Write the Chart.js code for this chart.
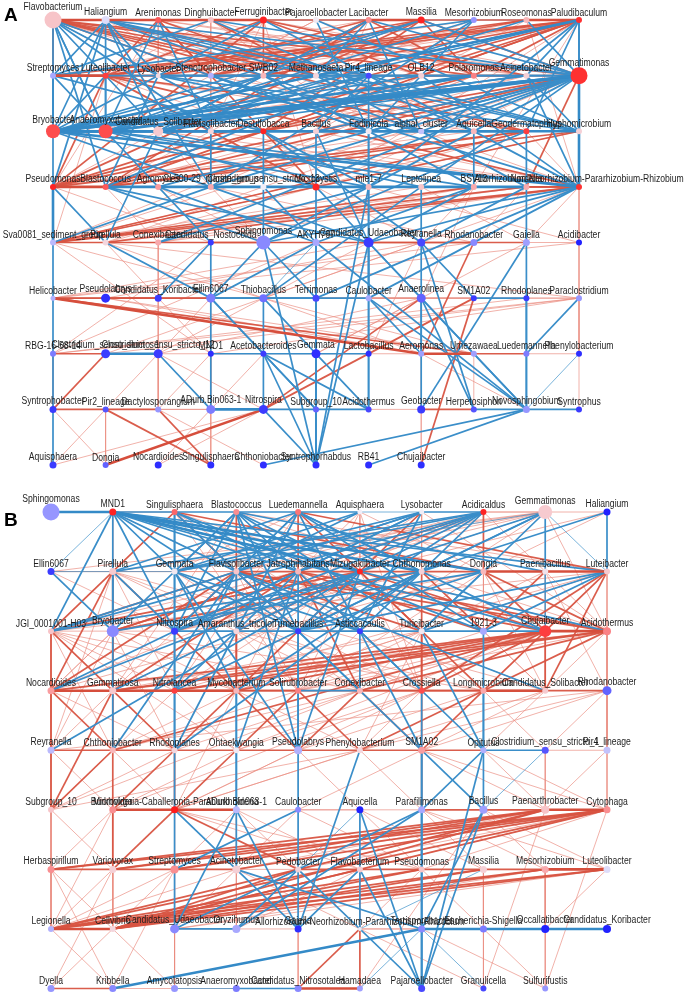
<!DOCTYPE html>
<html><head><meta charset="utf-8">
<script src="https://cdn.jsdelivr.net/npm/chart.js@4.4.1/dist/chart.umd.min.js"></script>
<style>
html,body{margin:0;padding:0;background:#fff;width:685px;height:997px;overflow:hidden}
#wrap{position:relative;width:685px;height:997px}
canvas{position:absolute;left:0}
.tag{position:absolute;font:bold 19px "Liberation Sans",Arial,sans-serif;color:#000}
</style></head><body>
<div id="wrap">
<canvas id="cA" width="685" height="490" style="top:0"></canvas>
<canvas id="cB" width="685" height="507" style="top:490px"></canvas>
<div class="tag" style="left:4px;top:4px">A</div>
<div class="tag" style="left:4px;top:509px">B</div>
</div>
<script>
// ---------- Panel A: genera (rows of the layout grid) ----------
const namesA = [
 ["Flavobacterium","Haliangium","Arenimonas","Dinghuibacter","Ferruginibacter","Pajaroellobacter","Lacibacter","Massilia","Mesorhizobium","Roseomonas","Paludibaculum"],
 ["Streptomyces","Luteolibacter","Lysobacter","Stenotrophobacter","SWB02","Methanosaeta","Pir4_lineage","OLB12","Polaromonas","Acinetobacter","Gemmatimonas"],
 ["Bryobacter","Anaeromyxobacter","Candidatus_Solibacter","Flavisolibacter","Desulfobacca","Bacillus","Fodinicola","alphaI_cluster","Aquicella","Geodermatophilus","Hyphomicrobium"],
 ["Pseudomonas","Blastococcus","Agromyces","CL500-29_marine_group","Clostridium_sensu_stricto_13","Microcystis","mle1-7","Leptolinea","BSV13","Nordella","Allorhizobium-Neorhizobium-Pararhizobium-Rhizobium"],
 ["Sva0081_sediment_group","Pirellula","Conexibacter","Candidatus_Nostocoida","Sphingomonas","AKYH767","Candidatus_Udaeobacter","Reyranella","Rhodanobacter","Gaiella","Acidibacter"],
 ["Helicobacter","Pseudolabrys","Candidatus_Koribacter","Ellin6067","Thiobacillus","Terrimonas","Caulobacter","Anaerolinea","SM1A02","Rhodoplanes","Paraclostridium"],
 ["RBG-16-58-14","Clostridium_sensu_stricto_1","Clostridium_sensu_stricto_12","MND1","Acetobacteroides","Gemmata","Lactobacillus","Aeromonas","Umezawaea","Luedemannella","Phenylobacterium"],
 ["Syntrophobacter","Pir2_lineage","Dactylosporangium","ADurb.Bin063-1","Nitrospira","Subgroup_10","Acidothermus","Geobacter","Herpetosiphon","Novosphingobium","Syntrophus"],
 ["Aquisphaera","Dongia","Nocardioides","Singulisphaera","Chthoniobacter","Syntrophorhabdus","RB41","Chujaibacter"]
];
// association score (-1 negative .. +1 positive) -> node colour
const scoreA = [
 [0.35,-0.1,0.75,0.35,0.95,0.05,0.55,0.95,-0.5,0.4,0.9],
 [-0.4,0.85,0.15,-0.35,0.4,0.2,-0.8,0.25,0.6,0.25,0.9],
 [0.8,0.8,0.3,0.2,0.95,0.25,0.05,-0.25,0.4,0.85,0.25],
 [0.95,0.75,0.5,0.45,0.0,0.95,0.4,0.35,0.45,0.45,0.9],
 [-0.3,0.2,0.45,-0.85,-0.55,-0.4,-0.85,-0.8,-0.55,-0.45,-0.95],
 [-0.35,-0.9,-0.85,-0.6,-0.65,-0.8,-0.4,-0.7,-0.85,-0.85,-0.5],
 [-0.6,-0.85,-0.85,-0.9,-0.85,-0.9,-0.9,-0.45,-0.45,-0.6,-0.9],
 [-0.85,-0.75,-0.5,-0.6,-0.85,-0.7,-0.8,-0.85,-0.75,-0.5,-0.85],
 [-0.85,-0.7,-0.9,-0.9,-0.9,-0.9,-0.9,-0.9]
];
// node degree -> node size
const degreeA = [
 [14,5,3,3,4,3,3,4,3,3,3],
 [3,3,2,3,3,3,3,3,3,3,14],
 [11,11,7,3,3,3,3,3,3,3,3],
 [3,3,3,3,3,4,3,3,3,3,3],
 [3,3,3,3,11,4,7,5,4,4,3],
 [2,6,4,6,5,4,3,6,3,3,3],
 [3,6,6,3,3,6,3,3,3,3,3],
 [4,3,3,6,6,3,3,5,3,4,3],
 [4,3,4,4,4,4,4,4]
];
// edges "RC-RC:strength" (R row, C column in hex)
const posEdgesA = [
 "00-01:3","01-02:3","02-03:3","03-04:3","04-05:2","05-06:2","06-07:3","07-08:2","08-09:2","09-0a:3","00-10:2",
 "00-13:2","00-14:2","00-16:2","00-18:2","00-19:1","00-1a:2","00-24:1","00-27:1","00-29:2","00-11:1","00-12:1","00-15:2",
 "01-14:1","01-1a:1","01-13:1","02-11:2","02-15:2","02-19:1","02-24:2","02-29:1","02-30:1","02-12:1","02-13:2",
 "03-11:1","03-17:1","03-26:1","03-33:1","03-15:2","04-11:2","04-17:2","04-19:2","04-23:1","04-30:2","04-35:1","04-12:1","04-14:2",
 "05-18:1","05-21:1","05-13:1","06-12:2","06-18:2","06-25:1","06-31:2","06-10:1","06-14:2",
 "07-11:2","07-13:2","07-21:1","07-24:2","07-30:2","07-3a:1","07-14:1","07-18:2","08-15:1","08-11:1",
 "09-11:2","09-14:1","09-25:1","09-3a:1","09-12:1","09-13:2",
 "0a-11:2","0a-12:2","0a-14:2","0a-16:1","0a-18:2","0a-22:2","0a-24:1","0a-30:2","0a-31:2","0a-35:1","0a-38:1","0a-10:2","0a-13:1","0a-17:2","0a-15:2",
 "10-11:3","11-12:2","13-14:2","14-15:2","17-18:2","18-19:2",
 "11-30:2","11-33:1","11-35:2","11-29:2","11-1a:2","11-28:1","11-3a:2","11-24:1","11-40:1",
 "1a-24:2","1a-30:2","1a-35:1","1a-39:2","1a-04:1","1a-07:2","1a-02:1","1a-31:2","1a-41:1","1a-40:1",
 "13-24:1","13-29:1","14-30:1","14-27:1","14-3a:1","18-30:2","18-21:1","18-33:1","18-40:1",
 "15-31:1","15-29:1","17-22:1","17-31:1","19-31:1","19-24:1",
 "24-35:2","24-30:1","29-30:2","29-31:2","23-3a:1","28-30:1","22-3a:1","25-3a:1","27-30:1","2a-31:2","2a-40:1","29-40:1",
 "30-31:3","30-3a:2","31-3a:1","35-36:2","36-37:2","37-38:2","38-39:1","35-3a:2","32-3a:1","33-39:1",
 "40-39:2","40-38:2","40-3a:2","40-37:1","40-29:2","40-2a:2","41-38:1","41-3a:2","41-39:1","41-29:1","42-3a:1","42-38:1","41-48:2","40-48:1",
 "30-43:1","31-42:1","32-44:1","33-48:1","35-47:1","36-4a:1","38-47:1","3a-4a:1","3a-49:1","39-48:1","37-49:1","38-57:1","33-55:1","3a-54:1",
 "40-41:2","41-42:1","42-43:1","46-47:2","47-48:2","48-49:2","49-4a:1","43-44:2",
 "50-5a:1","50-52:2","50-67:3","50-68:2","50-57:1","50-58:1","5a-51:1","5a-60:1","5a-63:1","5a-41:1","50-46:1","51-52:2","56-57:1","57-58:1","52-53:2","50-4a:1","50-48:1","51-47:1",
 "40-63:1","41-63:1","43-60:1","42-62:1","48-67:2","47-66:1","49-65:1","4a-5a:1","5a-6a:1","44-62:1","45-60:1","46-62:1","47-61:1",
 "60-61:2","67-68:3","68-69:2","69-6a:1","61-68:1","60-70:1","62-72:1","63-73:1","67-51:1","68-51:1","68-40:1","67-41:1","66-58:1","6a-5a:1","60-59:1","65-57:1","62-57:1","61-5a:1",
 "70-71:2","71-72:2","72-73:1","77-78:2","74-81:3","74-80:1","74-82:1","74-57:2","74-58:2","72-83:2","72-63:1","72-62:1","71-83:2","71-80:1","71-81:1","71-75:1","70-61:2",
 "87-77:1","87-58:2","87-67:1","77-67:1","73-63:1","73-82:1","73-53:1","73-83:1","7a-6a:1","74-62:1","75-77:1","72-84:1","71-62:1","70-81:1","78-68:1","79-68:1","79-67:1","73-64:1"
];
const negEdgesA = [
 "0a-1a:2",
 "20-04:2","20-07:2","20-0a:3","20-11:2","20-14:2","20-18:3","20-1a:3","20-28:2","20-29:3","20-2a:3","20-33:2","20-36:2","20-3a:3","20-10:2","20-30:2","20-01:2","20-26:2","20-27:2","20-25:2","20-24:3","20-22:3","20-21:3",
 "21-00:2","21-02:2","21-07:2","21-11:2","21-16:2","21-19:2","21-1a:3","21-26:2","21-2a:2","21-32:2","21-35:2","21-38:2","21-28:2","21-29:2","21-3a:2","21-10:2",
 "1a-01:2","1a-03:2","1a-10:2","1a-12:2","1a-20:3","1a-22:2","1a-25:2","1a-33:2","1a-36:2","1a-37:2","1a-42:2","1a-3a:3","1a-2a:2","1a-32:2","1a-26:2","1a-27:2","1a-06:2","1a-09:2",
 "01-10:2","01-12:2","01-15:2","01-22:2","01-30:2","01-33:2","01-0a:1","01-11:2","01-16:2","01-27:2","01-28:1","01-2a:2",
 "00-21:2","00-23:2","00-26:2","00-31:2","00-36:2","00-20:2","00-22:2",
 "0a-19:2","0a-20:2","0a-21:2","0a-2a:2","0a-29:2","0a-36:2",
 "22-06:2","22-09:2","22-14:2","22-18:2","22-2a:2","22-16:2","22-37:2",
 "10-20:2","10-24:2","10-14:1","10-08:2","10-03:2",
 "05-26:2","05-2a:2","03-28:2","08-26:2","08-33:2","08-21:2","06-15:2","06-27:2","02-23:2","04-16:2","07-1a:2",
 "12-2a:2","12-17:2","13-26:2","15-2a:2","16-2a:2","16-3a:2","16-26:2","16-25:2","17-3a:2","19-3a:2","19-2a:2","12-27:2","13-3a:2","15-39:2","14-38:2","16-31:2","17-20:2","18-22:2","19-21:2","11-21:2","12-31:2",
 "26-36:2","23-33:2","2a-3a:2","24-34:2","28-38:2","29-39:2","25-35:2","31-39:3","32-33:2","33-37:2",
 "30-40:3","31-44:2","31-46:2","32-45:2","33-46:2","36-44:2","37-54:2","38-46:2","3a-46:2","3a-44:2","3a-55:2","25-46:2","26-56:2","29-44:2","34-45:2","34-44:2","36-56:2","39-49:2","37-47:2","30-41:2","32-43:2","35-46:2","3a-56:2","39-47:2","38-45:2","33-40:2","36-42:2","24-47:2","22-41:2",
 "40-50:2","43-53:2","44-53:2","45-53:2","46-56:2","49-59:2","59-69:2","56-66:2","57-47:2","53-54:2","54-55:2","55-56:2","58-59:2","53-55:2","52-43:2","44-55:2","46-57:2","47-58:2","45-54:1","5a-69:2","41-53:2",
 "50-60:2","53-64:2","56-67:2","57-67:2","54-76:2","55-75:2","56-76:2","59-79:2",
 "61-62:3","63-64:2","64-65:2","65-66:2","60-70:2","62-73:2","66-76:2","69-79:2","6a-79:1",
 "70-80:2","73-74:3","74-75:2","75-76:2","78-79:2","79-7a:2","84-79:2","86-79:2","85-44:2","85-45:2","85-46:2","85-36:2","85-35:2","85-74:2","85-75:2",
 "79-56:2","79-57:2","79-46:2","79-45:2","75-64:2","76-64:2","77-57:2","78-57:2","78-47:2","77-49:2","85-64:2","74-54:2","75-53:2","73-53:2"
];

// ---------- Panel B ----------
const namesB = [
 ["Sphingomonas","MND1","Singulisphaera","Blastococcus","Luedemannella","Aquisphaera","Lysobacter","Acidicaldus","Gemmatimonas","Haliangium"],
 ["Ellin6067","Pirellula","Gemmata","Flavisolibacter","Jatrophihabitans","Mizugakiibacter","Chthonomonas","Dongia","Paenibacillus","Luteibacter"],
 ["JGI_0001001-H03","Bryobacter","Nitrospira","Amaranthus_tricolor","Tumebacillus","Asticcacaulis","Turicibacter","1921-3","Chujaibacter","Acidothermus"],
 ["Nocardioides","Gemmatirosa","Nitrolancea","Mycobacterium","Solirubrobacter","Conexibacter","Crossiella","Longimicrobium","Candidatus_Solibacter","Rhodanobacter"],
 ["Reyranella","Chthoniobacter","Rhodoplanes","Ohtaekwangia","Pseudolabrys","Phenylobacterium","SM1A02","Opitutus","Clostridium_sensu_stricto_1","Pir4_lineage"],
 ["Subgroup_10","Microvirga","Burkholderia-Caballeronia-Paraburkholderia","ADurb.Bin063-1","Caulobacter","Aquicella","Parafilimonas","Bacillus","Paenarthrobacter","Cytophaga"],
 ["Herbaspirillum","Variovorax","Streptomyces","Acinetobacter","Pedobacter","Flavobacterium","Pseudomonas","Massilia","Mesorhizobium","Luteolibacter"],
 ["Legionella","Cellvibrio","Candidatus_Udaeobacter","Oryzihumus","Gaiella","Allorhizobium-Neorhizobium-Pararhizobium-Rhizobium","Terrisporobacter","Escherichia-Shigella","Occallatibacter","Candidatus_Koribacter"],
 ["Dyella","Kribbella","Amycolatopsis","Anaeromyxobacter","Candidatus_Nitrosotalea","Hamadaea","Pajaroellobacter","Granulicella","Sulfurifustis"]
];
const scoreB = [
 [-0.5,0.95,0.7,0.55,0.65,0.0,0.0,0.95,0.3,-0.95],
 [-0.85,0.3,0.05,0.35,0.4,0.95,0.25,0.4,0.1,0.3],
 [0.35,-0.55,-0.85,0.2,-0.85,-0.85,0.05,-0.4,0.85,0.6],
 [0.5,0.3,0.85,0.4,0.6,0.4,0.8,0.45,0.3,-0.7],
 [-0.3,0.4,0.2,0.05,-0.35,0.2,0.5,-0.35,-0.75,-0.25],
 [0.35,0.55,0.98,-0.3,-0.55,-0.95,-0.4,-0.45,0.35,0.55],
 [0.55,0.25,0.55,0.25,0.25,0.3,0.35,0.25,0.45,-0.1],
 [-0.35,0.2,-0.55,-0.4,-0.9,0.0,-0.55,-0.6,-0.95,-0.95],
 [-0.5,-0.55,-0.5,-0.6,-0.55,-0.45,-0.8,-0.8,-0.5]
];
const degreeB = [
 [14,4,3,3,3,2,2,3,11,4],
 [4,4,3,3,3,3,3,3,3,3],
 [3,9,4,3,3,3,3,4,9,5],
 [4,4,3,3,3,3,3,3,3,6],
 [4,3,3,3,5,3,4,3,4,4],
 [3,4,4,4,3,4,4,5,5,4],
 [4,4,5,5,3,3,3,4,4,4],
 [3,3,6,5,4,1,4,4,5,5],
 [4,4,4,4,4,3,4,3,3]
];
const posEdgesB = [
 "07-08:1","08-09:1","01-02:1",
 "02-11:2","02-13:2","02-17:2","02-20:1","02-25:1","02-34:1","02-15:1",
 "03-13:2","03-19:1","03-29:1","03-14:1","03-31:1",
 "04-14:2","04-19:2","04-26:1","04-32:1","04-12:1","04-15:2",
 "05-14:1","05-17:1","05-24:1","05-15:1","05-36:1",
 "06-15:2","06-16:1","06-23:1","06-29:1","06-33:1",
 "07-17:2","07-18:1","07-21:2","07-25:1","07-13:1","07-31:1","07-30:1",
 "08-11:1","08-12:1","08-13:1","08-14:1","08-15:1","08-17:1","08-29:1","08-07:1","08-25:1","08-10:1",
 "09-15:1","09-17:1","01-11:1","01-13:1",
 "13-14:2","14-15:2","15-16:2","16-17:2","17-18:3","18-19:3","11-12:1","10-11:1","12-13:1",
 "11-20:2","11-21:2","11-30:2","11-31:2","11-33:2","11-35:1","11-40:1","11-36:1","11-38:1","11-32:1",
 "10-13:1","10-22:1","12-35:1","12-30:1","12-36:1",
 "13-20:2","13-22:2","13-24:2","13-26:2","13-28:2","13-29:2","13-30:2","13-33:2","13-38:1","13-34:1","13-31:1",
 "14-21:2","14-25:2","14-27:2","14-31:2","14-35:2","14-29:2","14-33:1","14-37:1","14-20:1",
 "15-20:2","15-22:2","15-23:2","15-26:2","15-28:2","15-33:2","15-37:2","15-36:1","15-29:1","15-32:1","15-34:1",
 "16-21:2","16-22:1","16-27:2","16-36:2","16-34:1","16-38:1","16-32:1",
 "17-28:2","17-29:2","17-34:1","17-22:1","17-35:1","17-27:1","17-38:1","17-30:1",
 "18-27:2","18-29:1","18-39:1","18-38:1","18-34:1",
 "19-28:2","19-38:2","19-29:1","19-20:1","19-36:2","19-37:1","19-33:1","19-32:1",
 "20-21:1","28-29:3","21-22:1","23-24:1","24-25:1",
 "20-30:2","20-31:2","20-33:1","20-41:1","20-35:1","20-32:1","20-40:1","20-42:1","20-43:1",
 "21-31:2","21-41:1","21-30:1","21-33:1","21-42:1","21-40:1","21-37:1",
 "23-33:2","23-34:1","23-42:1","23-37:1","23-31:1","26-36:2","26-33:1","26-31:1","26-45:1",
 "28-30:2","28-31:2","28-32:2","28-33:2","28-37:2","28-38:2","28-41:2","28-36:2","28-35:1","28-42:1","28-34:1","28-43:1",
 "29-31:2","29-32:2","29-35:2","29-37:2","29-38:1","29-39:1","29-34:1","29-30:1","29-49:1",
 "27-37:1","27-38:1","27-34:1",
 "30-31:3","31-32:3","32-33:3","33-34:2","35-36:2","36-37:2","37-38:3",
 "30-40:2","30-41:2","31-41:2","31-42:2","31-40:1","32-43:1","33-42:2","33-44:2","33-45:1","34-43:2","34-45:2","35-44:2","35-46:2","36-46:2","36-45:1","37-46:2","37-48:1","38-47:1","38-46:1",
 "39-31:2","39-40:1","39-45:1","39-46:1","39-48:1","39-49:1","30-50:1","31-50:2","32-50:1","33-41:1","30-42:1","34-41:1","35-41:1","36-43:1","37-44:1","37-45:2","32-52:1","33-52:1","36-52:1","38-52:1","36-51:1","35-50:1",
 "40-41:2","41-42:2","42-43:2","44-46:2","46-47:2","48-49:1","43-44:2",
 "40-50:2","41-50:2","41-51:2","42-51:2","42-52:2","43-52:2","43-51:1","44-52:1","45-52:1","45-56:1","46-56:2","46-58:1","46-59:1","47-58:1","47-59:1","49-58:1","49-59:1","44-55:1","40-51:1","41-52:1","48-58:1","46-54:1","45-50:1","42-50:1",
 "51-52:3","52-53:3","53-55:1","55-56:1","56-58:2","58-59:3","57-58:1","54-55:1",
 "59-60:2","59-61:2","59-62:2","59-63:2","59-71:2","58-60:2","58-61:2","58-62:2","58-70:2","58-71:2","59-70:2","59-64:1","58-63:1",
 "52-61:2","52-62:1","52-64:2","52-65:1","51-61:2","51-60:1","50-60:1","50-61:1","53-62:1","53-65:1","54-66:1","55-66:1","56-68:1","56-69:1","57-68:1","57-69:1","56-67:1","55-67:1","54-63:1","53-63:1","52-66:1",
 "50-70:1","51-71:1","52-72:1","51-70:1","57-85:1","58-87:1","59-88:1","53-64:1","58-64:1","59-65:1","59-66:1",
 "60-61:2","61-62:2","62-63:2","64-65:2","65-66:2","66-67:2","67-68:2","68-69:3","63-64:1",
 "69-70:2","68-71:2","66-71:2","67-70:2","69-71:2","68-70:2","65-71:2","64-71:2","66-70:2","67-71:2","69-72:1","68-72:1","63-70:1","62-70:1","62-71:1","61-70:1","60-70:1","60-71:1","61-71:1","63-73:1",
 "61-80:1","60-81:1","62-81:1","62-82:1","67-87:1","68-88:1","66-77:1","67-77:1","68-78:1","69-78:1","64-72:1","65-73:1","63-72:1","65-75:1","66-75:1","64-75:1","63-75:1",
 "70-71:3","73-74:1","72-73:1","75-85:2","75-77:1","75-76:1","70-81:1","71-80:1","71-82:1","72-82:1","76-88:1","77-88:1","75-87:1","74-84:1",
 "80-81:2","81-82:1","84-85:3","82-83:1","84-75:2"
];
const negEdgesB = [
 "00-01:3","01-03:2","03-04:2","04-05:2","05-06:1","06-07:2",
 "01-12:2","01-15:3","01-16:3","01-17:3","01-19:2","01-22:2","01-24:2","01-28:2","01-29:2","01-21:2","01-10:1","01-20:2","01-14:2","01-25:2",
 "02-12:2","02-14:2","02-27:2","02-22:2","02-24:2",
 "03-12:2","03-21:2","03-15:2","03-18:2","03-26:2","03-22:2","03-24:2","03-44:2","03-36:2",
 "04-13:2","04-16:2","04-11:2","04-22:2","04-28:2","04-25:2","04-27:2","04-42:2",
 "05-13:2","05-12:2","06-13:2","06-14:2","06-25:2","06-12:2","06-22:2","06-20:2",
 "07-12:2","07-14:2","07-15:2","07-16:2","07-22:2","07-24:2","07-11:2","07-20:2",
 "08-16:2","08-18:2","08-19:1","08-24:2","08-22:2","08-12:1","08-26:2","09-19:2","09-16:2",
 "10-21:2","10-12:1","11-22:2","11-41:2","12-22:2","12-24:2","12-25:2","12-33:2","12-44:2","13-23:2","13-38:2","13-32:2","14-30:2","14-32:2","14-44:2",
 "15-24:2","15-30:2","15-31:2","15-44:2","16-20:2","16-25:2","16-33:2","16-32:2","17-21:2","17-26:2","17-24:2","18-28:1","19-27:2","19-26:2","19-24:2","16-42:2","15-40:2","14-43:2","13-41:2",
 "22-27:2","27-28:2","22-32:2","22-42:2","24-44:2","24-35:2","25-35:2","25-46:2","27-37:2","26-47:2","24-57:2","25-47:2",
 "34-35:2","32-42:2","33-43:2","37-47:2","33-53:2","36-56:2","37-57:2",
 "47-48:2","43-53:2","47-56:2","47-86:2","46-86:2","48-57:1","44-74:2","45-74:2","42-62:2",
 "56-73:2","56-72:2","53-74:2","55-75:2","56-86:2","57-86:2","53-63:2","52-63:2","53-72:2","54-62:2","55-64:1","56-76:2","57-76:2","55-86:2",
 "63-76:2","64-86:2","65-86:2","76-81:3","76-77:3","77-78:3","78-79:3","72-73:2","83-84:2","82-83:1","64-73:2","63-74:2","62-72:2","86-76:2","87-76:1","65-74:2","67-75:1","76-85:1"
];

// ---------- helpers ----------
function nodeColor(s){
  const stops=[[-1,[20,20,255]],[-0.5,[150,150,255]],[0,[240,238,248]],[0.35,[247,196,200]],[1,[255,22,22]]];
  for(let i=0;i<stops.length-1;i++){
    const [a,ca]=stops[i],[b,cb]=stops[i+1];
    if(s<=b||i===stops.length-2){
      const t=Math.max(0,Math.min(1,(s-a)/(b-a)));
      const c=ca.map((v,k)=>Math.round(v+(cb[k]-v)*t));
      return `rgb(${c[0]},${c[1]},${c[2]})`;
    }
  }
}
function radiusOf(d){return 1.5+d/2;}
function code(s){return {r:parseInt(s[0],16),c:parseInt(s[1],16)};}
const RED=['rgba(234,140,128,0.75)','rgba(216,84,66,0.95)','rgb(214,78,60)'];
const BLUE=['rgba(70,150,205,0.8)','rgb(58,142,201)','rgb(52,138,199)'];
const WIDTH=[0.9,1.7,2.6];
function edgeSets(list,sign,names){
  return list.map(e=>{
    const [pair,w]=e.split(':');const [a,b]=pair.split('-');
    const p=code(a),q=code(b);const k=(+w)-1;
    if(!names[p.r]||names[p.r][p.c]===undefined||!names[q.r]||names[q.r][q.c]===undefined) return null;
    return {data:[{x:p.c,y:p.r},{x:q.c,y:q.r}],showLine:true,
      borderColor:sign>0?RED[k]:BLUE[k],borderWidth:WIDTH[k],
      pointRadius:0,pointHoverRadius:0,fill:false,tension:0,clip:false,
      order:sign>0?(10-2*(+w)):(9-2*(+w))};
  }).filter(Boolean);
}
function nodeSet(names,score,degree){
  const data=[],rad=[],col=[];
  names.forEach((row,r)=>row.forEach((n,c)=>{data.push({x:c,y:r});rad.push(radiusOf(degree[r][c]));col.push(nodeColor(score[r][c]));}));
  return {data,pointRadius:rad,pointHoverRadius:rad,pointBackgroundColor:col,pointBorderColor:col,pointBorderWidth:0,showLine:false,clip:false,order:0};
}
function labelPlugin(names,degree){
  return {id:'lbl',afterDatasetsDraw(chart){
    const ctx=chart.ctx,xs=chart.scales.x,ys=chart.scales.y;
    ctx.save();
    ctx.font='10px "Liberation Sans", Arial, sans-serif';
    ctx.fillStyle='#1e1e1e';ctx.textAlign='center';ctx.textBaseline='alphabetic';
    names.forEach((row,r)=>row.forEach((n,c)=>{
      const px=xs.getPixelForValue(c),py=ys.getPixelForValue(r);
      const rr=radiusOf(degree[r][c]);
      ctx.save();ctx.translate(px,py-rr-1.5);ctx.scale(0.86,1);ctx.fillText(n,0,0);ctx.restore();
    }));
    ctx.restore();
  }};
}
function makeChart(id,names,score,degree,pos,neg,cols,pad){
  new Chart(document.getElementById(id),{
    type:'scatter',
    data:{datasets:[nodeSet(names,score,degree),...edgeSets(pos,1,names),...edgeSets(neg,-1,names)]},
    options:{responsive:false,animation:false,events:[],devicePixelRatio:1,
      layout:{padding:pad},
      plugins:{legend:{display:false},tooltip:{enabled:false}},
      scales:{x:{type:'linear',min:0,max:cols-1,display:false},
              y:{type:'linear',min:0,max:8,reverse:true,display:false}}},
    plugins:[labelPlugin(names,degree)]
  });
}
makeChart('cA',namesA,scoreA,degreeA,posEdgesA,negEdgesA,11,{left:53,right:106,top:20,bottom:25});
makeChart('cB',namesB,scoreB,degreeB,posEdgesB,negEdgesB,10,{left:51,right:78,top:22,bottom:4});
</script>
</body></html>
